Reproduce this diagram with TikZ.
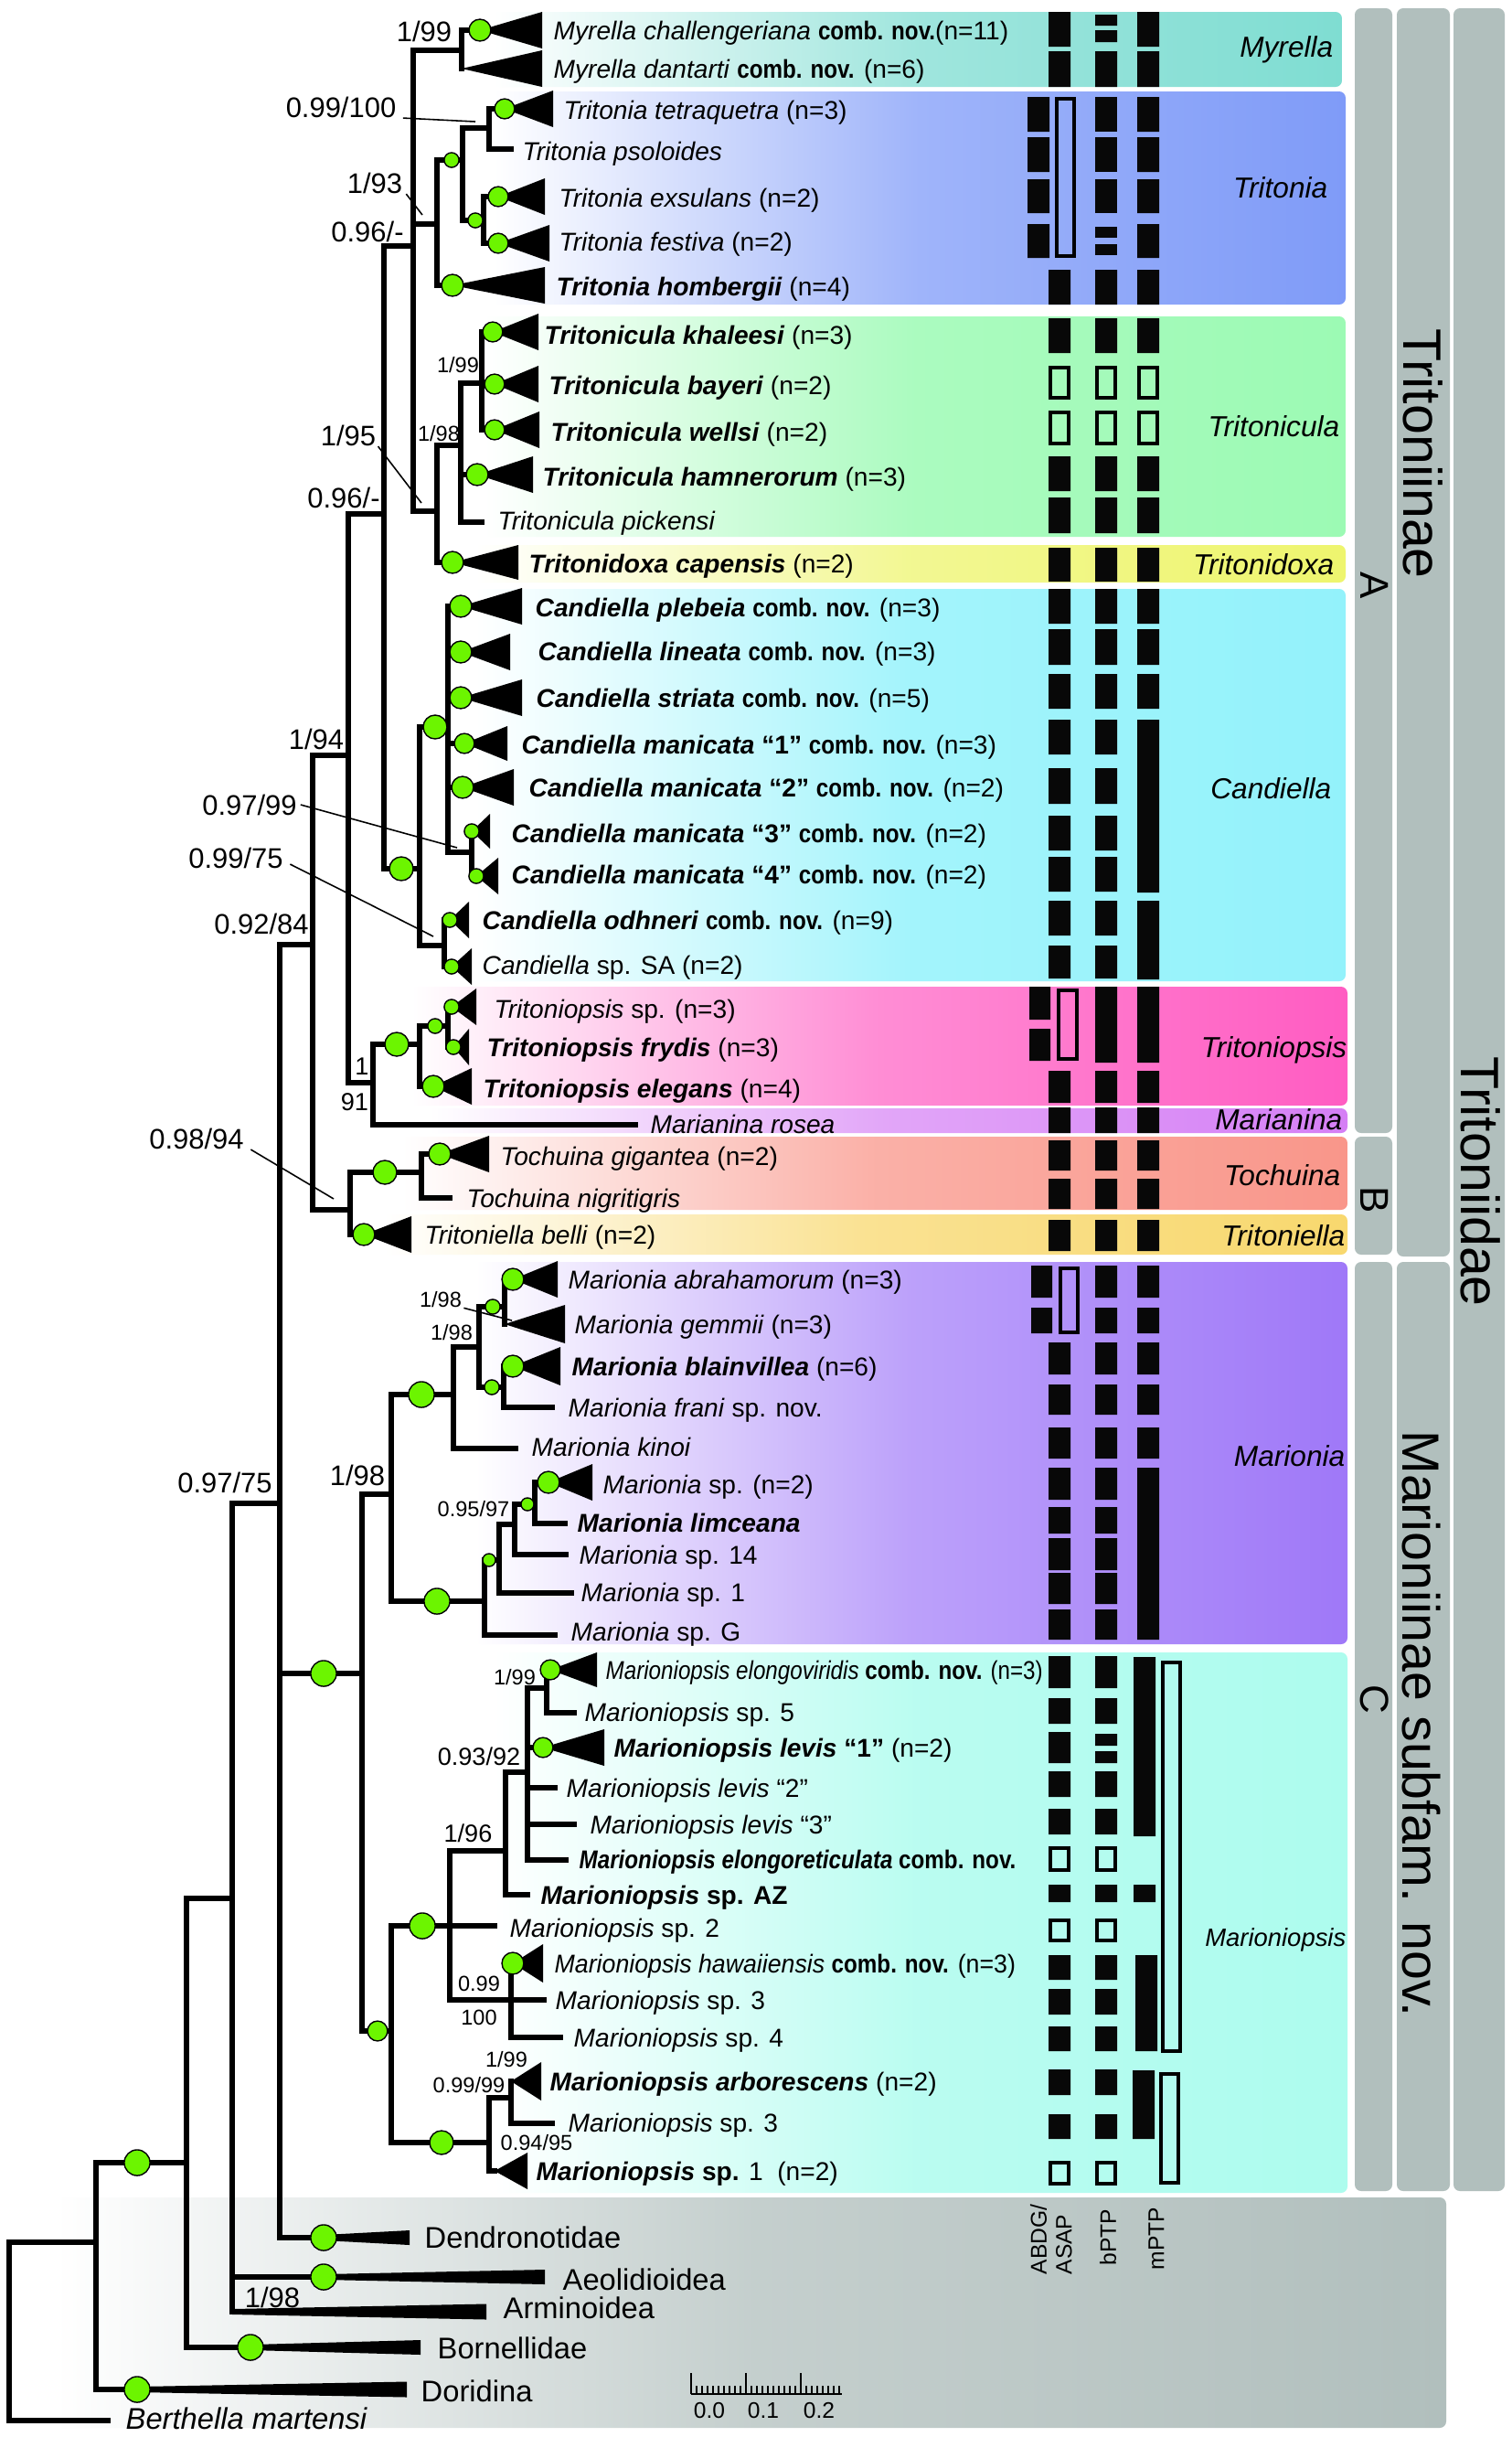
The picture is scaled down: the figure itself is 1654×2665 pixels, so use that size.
\documentclass[tikz,border=0pt]{standalone}
\usepackage{fontspec}
\setmainfont{Liberation Sans}
\newfontfamily\narrowfont[FakeStretch=0.86]{Liberation Sans}
\newfontfamily\semifont[FakeStretch=0.95]{Liberation Sans}
\newcommand{\bi}[1]{\textbf{\textit{#1}}}
\newcommand{\combnov}{{\narrowfont\bfseries comb. nov.}}
\definecolor{cMyr}{RGB}{127,221,210}
\definecolor{cTria}{RGB}{127,155,248}
\definecolor{cTcla}{RGB}{156,250,180}
\definecolor{cTdox}{RGB}{238,245,110}
\definecolor{cCand}{RGB}{147,242,251}
\definecolor{cTops}{RGB}{255,92,194}
\definecolor{cMnina}{RGB}{213,127,245}
\definecolor{cToch}{RGB}{249,150,138}
\definecolor{cTella}{RGB}{248,216,110}
\definecolor{cMar}{RGB}{159,120,248}
\definecolor{cMops}{RGB}{173,252,238}
\definecolor{cGrey}{RGB}{177,191,189}
\definecolor{cDot}{RGB}{108,245,0}
\begin{document}
\begin{tikzpicture}[x=0.01cm,y=-0.01cm,
    br/.style={line width=1.7pt, line cap=rect},
    lead/.style={line width=0.45pt},
    gdot/.style={fill=cDot, draw=black, line width=0.4pt},
    tax/.style={anchor=base west, inner sep=0pt, yshift=-2.9pt, font=\fontsize{8}{9}\selectfont},
    outg/.style={anchor=base west, inner sep=0pt, yshift=-3.3pt, font=\fontsize{9.3}{10}\selectfont},
    supL/.style={inner sep=0pt, font=\fontsize{8.8}{10}\selectfont},
    supM/.style={inner sep=0pt, font=\fontsize{7.7}{9}\selectfont},
    supS/.style={inner sep=0pt, font=\fontsize{6.7}{8}\selectfont},
    clade/.style={anchor=east, inner sep=0pt, font=\fontsize{9}{10}\selectfont\itshape},
    fb/.style={fill=black!97},
    ob/.style={draw=black, line width=1.2pt},
    sidebar/.style={fill=cGrey, rounded corners=2pt},
    grp/.style={rotate=-90, inner sep=0pt, font=\fontsize{16.8}{18}\selectfont},
    colname/.style={rotate=90, anchor=west, inner sep=0pt, font=\fontsize{7}{8}\selectfont}]
\fill[white] (0,0) rectangle (1654,2665);
\useasboundingbox (0,0) rectangle (1654,2665);

% clade boxes
\shade[left color=white, right color=cMyr, middle color=cMyr!75, rounded corners=2pt] (540,13) rectangle (1468,95);
\shade[left color=white, right color=cTria, middle color=cTria!75, rounded corners=2pt] (540,100) rectangle (1472,333);
\shade[left color=white, right color=cTcla, middle color=cTcla!85, rounded corners=2pt] (530,346) rectangle (1472,587);
\shade[left color=white, right color=cTdox, middle color=cTdox!75, rounded corners=2pt] (520,596) rectangle (1472,637);
\shade[left color=white, right color=cCand, middle color=cCand!85, rounded corners=2pt] (520,644) rectangle (1472,1073);
\shade[left color=white, right color=cTops, middle color=cTops!70, rounded corners=2pt] (450,1079) rectangle (1474,1209);
\shade[left color=white, right color=cMnina, middle color=cMnina!70, rounded corners=2pt] (470,1212) rectangle (1474,1239);
\shade[left color=white, right color=cToch, middle color=cToch!75, rounded corners=2pt] (440,1243) rectangle (1474,1323);
\shade[left color=white, right color=cTella, middle color=cTella!75, rounded corners=2pt] (420,1328) rectangle (1474,1372);
\shade[left color=white, right color=cMar, middle color=cMar!70, rounded corners=2pt] (520,1380) rectangle (1474,1798);
\shade[left color=white, right color=cMops, middle color=cMops!85, rounded corners=2pt] (540,1807) rectangle (1474,2398);
\shade[left color=white, right color=cGrey, middle color=cGrey!75, rounded corners=2pt] (60,2403) rectangle (1582,2655);

% side bars
\fill[sidebar] (1482,9) rectangle (1523,1239);
\fill[sidebar] (1482,1243) rectangle (1523,1372);
\fill[sidebar] (1482,1380) rectangle (1523,2396);
\fill[sidebar] (1528,9) rectangle (1586,1374);
\fill[sidebar] (1528,1380) rectangle (1586,2396);
\fill[sidebar] (1590,9) rectangle (1646,2396);
\node[grp] (tinae) at (1557,496) {Tritoniinae};
\node[grp, font=\fontsize{16.3}{18}\selectfont] (minae) at (1555,1885) {Marioniinae subfam. nov.};
\node[grp] (tidae) at (1620,1292) {Tritoniidae};
\node[grp, font=\fontsize{12.5}{14}\selectfont] (gA) at (1504,640) {A};
\node[grp, font=\fontsize{12.5}{14}\selectfont] (gB) at (1504,1312) {B};
\node[grp, font=\fontsize{12.5}{14}\selectfont] (gC) at (1504,1858) {C};

% clade names
\node[clade] (kMyr) at (1459,54) {Myrella};
\node[clade] (kTria) at (1453,205) {Tritonia};
\node[clade] (kTcla) at (1466,466) {Tritonicula};
\node[clade] (kTdox) at (1460,617) {Tritonidoxa};
\node[clade] (kCand) at (1457,862) {Candiella};
\node[clade] (kTops) at (1474,1148) {Tritoniopsis};
\node[clade] (kMnina) at (1469,1224) {Marianina};
\node[clade] (kToch) at (1467,1285) {Tochuina};
\node[clade] (kTella) at (1472,1351) {Tritoniella};
\node[clade] (kMar) at (1472,1592) {Marionia};
\node[clade, font=\fontsize{7.8}{9}\selectfont\itshape] (kMops) at (1473,2121) {Marioniopsis};

% delimitation columns
\foreach \ya/\yb in {56/95,295/333,348/386,499/537,544/583,599/636,644/682,688/727,737/775,1171/1206,1211/1239,1247/1280,1289/1322,1334/1368,1468/1503,1514/1547,1561/1595}
  \fill[fb] (1147,\ya) rectangle (1171,\yb) (1198,\ya) rectangle (1222,\yb) (1244,\ya) rectangle (1268,\yb);
\foreach \ya/\yb in {787/825,840/879,892/930,937/975,985/1023,1034/1070,1605/1640,1648/1677,1682/1717,1720/1754,1760/1793,1811/1846,1857/1885,1937/1965,1978/2006,2061/2080,2138/2165,2175/2203,2216/2243,2263/2291,2312/2339}
  \fill[fb] (1147,\ya) rectangle (1171,\yb) (1198,\ya) rectangle (1222,\yb);
\fill[fb] (1147,13) rectangle (1171,51) (1244,13) rectangle (1268,51) (1198,16) rectangle (1222,28) (1198,33) rectangle (1222,46);
\foreach \ya/\yb in {106/144,150/188,196/233,245/282}
  \fill[fb] (1124,\ya) rectangle (1148,\yb) (1244,\ya) rectangle (1268,\yb);
\foreach \ya/\yb in {106/144,150/188,196/233,248/260,267/279}
  \fill[fb] (1198,\ya) rectangle (1222,\yb);
\fill[fb] (1126,1079) rectangle (1149,1115) (1126,1125) rectangle (1149,1160) (1198,1079) rectangle (1222,1162) (1244,1079) rectangle (1268,1162);
\fill[fb] (1128,1384) rectangle (1151,1419) (1128,1430) rectangle (1151,1458) (1198,1384) rectangle (1222,1419) (1198,1430) rectangle (1222,1458) (1244,1384) rectangle (1268,1419) (1244,1430) rectangle (1268,1458);
\fill[fb] (1244,787) rectangle (1268,976) (1244,985) rectangle (1268,1071) (1244,1605) rectangle (1268,1793);
\fill[fb] (1147,1894) rectangle (1171,1928) (1198,1896) rectangle (1222,1909) (1198,1915) rectangle (1222,1928);
\fill[fb] (1240,1812) rectangle (1264,2008) (1240,2061) rectangle (1264,2080) (1242,2138) rectangle (1266,2243) (1239,2264) rectangle (1263,2339);
\foreach \ya/\yb in {402/435,451/485}
  \draw[ob] (1149,\ya) rectangle (1169,\yb) (1200,\ya) rectangle (1220,\yb) (1246,\ya) rectangle (1266,\yb);
\foreach \ya/\yb in {2021/2045,2100/2122,2365/2388}
  \draw[ob] (1149,\ya) rectangle (1169,\yb) (1200,\ya) rectangle (1220,\yb);
\draw[ob] (1156,108) rectangle (1175,280);
\draw[ob] (1158,1083) rectangle (1178,1158);
\draw[ob] (1160,1387) rectangle (1179,1457);
\draw[ob] (1272,1818) rectangle (1291,2243);
\draw[ob] (1270,2268) rectangle (1289,2387);
\node[colname] (cA) at (1136,2488) {ABDG/};
\node[colname] (cB) at (1164,2488) {ASAP};
\node[colname] (cC) at (1212,2478) {bPTP};
\node[colname] (cD) at (1265,2483) {mPTP};

% backbone and outgroups
\draw[br] (10,2452) -- (10,2647) -- (118,2647);
\draw[br] (10,2452) -- (105,2452);
\draw[br] (105,2365) -- (105,2613) -- (150,2613);
\draw[br] (105,2365) -- (204,2365);
\draw[br] (204,2076) -- (204,2567) -- (274,2567);
\draw[br] (204,2076) -- (254,2076);
\draw[br] (254,1644) -- (254,2528);
\draw[br] (254,1644) -- (306,1644);
\draw[br] (254,2490) -- (354,2490);
\draw[br] (306,1033) -- (306,2447) -- (354,2447);
\draw[br] (306,1033) -- (342,1033);
\draw[br] (306,1830) -- (396,1830);
% Tritoniinae and clade B
\draw[br] (342,826) -- (342,1323) -- (383,1323);
\draw[br] (342,826) -- (381,826);
\draw[br] (381,562) -- (381,1184) -- (408,1184);
\draw[br] (381,562) -- (420,562);
\draw[br] (420,269) -- (420,950) -- (459,950);
\draw[br] (420,269) -- (452,269);
\draw[br] (452,55) -- (452,559) -- (478,559);
\draw[br] (452,55) -- (505,55);
\draw[br] (452,245) -- (478,245);
\draw[br] (525,33) -- (505,33) -- (505,75);
\draw[br] (478,175) -- (478,312) -- (495,312);
\draw[br] (478,175) -- (506,175);
\draw[br] (506,140) -- (506,241) -- (529,241);
\draw[br] (506,140) -- (535,140);
\draw[br] (552,119) -- (535,119) -- (535,163) -- (559,163);
\draw[br] (545,215) -- (529,215) -- (529,266) -- (545,266);
\draw[br] (478,487) -- (478,615) -- (495,615);
\draw[br] (478,487) -- (504,487);
\draw[br] (504,419) -- (504,571) -- (527,571);
\draw[br] (504,419) -- (527,419);
\draw[br] (504,519) -- (522,519);
\draw[br] (539,363) -- (527,363) -- (527,470) -- (541,470);
\draw[br] (527,420) -- (541,420);
\draw[br] (459,795) -- (459,1034) -- (486,1034);
\draw[br] (459,795) -- (490,795);
\draw[br] (504,663) -- (490,663) -- (490,932) -- (516,932);
\draw[br] (490,713) -- (504,713);
\draw[br] (490,763) -- (504,763);
\draw[br] (490,813) -- (508,813);
\draw[br] (490,861) -- (506,861);
\draw[br] (516,909) -- (516,958) -- (521,958);
\draw[br] (492,1006) -- (486,1006) -- (486,1057) -- (494,1057);
\draw[br] (408,1142) -- (408,1230) -- (695,1230);
\draw[br] (408,1142) -- (459,1142);
\draw[br] (459,1122) -- (459,1188) -- (474,1188);
\draw[br] (459,1122) -- (490,1122);
\draw[br] (494,1101) -- (490,1101) -- (490,1145) -- (496,1145);
\draw[br] (383,1282) -- (383,1350) -- (398,1350);
\draw[br] (383,1282) -- (461,1282);
\draw[br] (481,1262) -- (461,1262) -- (461,1310) -- (492,1310);
% Marioniinae
\draw[br] (396,1634) -- (396,2221) -- (428,2221);
\draw[br] (396,1634) -- (428,1634);
\draw[br] (428,1525) -- (428,1751) -- (530,1751);
\draw[br] (428,1525) -- (496,1525);
\draw[br] (496,1473) -- (496,1584) -- (564,1584);
\draw[br] (496,1473) -- (524,1473);
\draw[br] (524,1429) -- (524,1517) -- (551,1517);
\draw[br] (524,1429) -- (552,1429);
\draw[br] (561,1399) -- (552,1399) -- (552,1448);
\draw[br] (561,1494) -- (551,1494) -- (551,1539) -- (604,1539);
\draw[br] (530,1706) -- (530,1788) -- (607,1788);
\draw[br] (530,1706) -- (546,1706);
\draw[br] (546,1667) -- (546,1742) -- (625,1742);
\draw[br] (546,1667) -- (563,1667);
\draw[br] (563,1645) -- (563,1700) -- (619,1700);
\draw[br] (563,1645) -- (585,1645);
\draw[br] (600,1621) -- (585,1621) -- (585,1666) -- (618,1666);
\draw[br] (428,2106) -- (428,2343) -- (535,2343);
\draw[br] (428,2106) -- (541,2106);
\draw[br] (492,2024) -- (492,2187) -- (595,2187);
\draw[br] (492,2024) -- (553,2024);
\draw[br] (553,1938) -- (553,2072) -- (577,2072);
\draw[br] (553,1938) -- (577,1938);
\draw[br] (577,1846) -- (577,2034) -- (619,2034);
\draw[br] (577,1846) -- (598,1846);
\draw[br] (577,1911) -- (594,1911);
\draw[br] (577,1955) -- (607,1955);
\draw[br] (577,1995) -- (628,1995);
\draw[br] (602,1826) -- (598,1826) -- (598,1873) -- (628,1873);
\draw[br] (559,2147) -- (559,2228) -- (613,2228);
\draw[br] (535,2294) -- (535,2374) -- (541,2374);
\draw[br] (535,2294) -- (559,2294);
\draw[br] (559,2276) -- (559,2322) -- (604,2322);

% collapsed clades
\fill (525,33) -- (593,13) -- (593,53) -- cycle;
\fill (505,75) -- (593,55) -- (593,95) -- cycle;
\fill (552,119) -- (605,99) -- (605,139) -- cycle;
\fill (545,215) -- (596,195) -- (596,235) -- cycle;
\fill (545,266) -- (601,246) -- (601,286) -- cycle;
\fill (495,312) -- (596,292) -- (596,332) -- cycle;
\fill (539,363) -- (589,343) -- (589,383) -- cycle;
\fill (541,420) -- (589,400) -- (589,440) -- cycle;
\fill (541,470) -- (590,450) -- (590,490) -- cycle;
\fill (522,519) -- (583,499) -- (583,539) -- cycle;
\fill (495,615) -- (567,596) -- (567,634) -- cycle;
\fill (504,663) -- (571,643) -- (571,683) -- cycle;
\fill (504,713) -- (558,693) -- (558,733) -- cycle;
\fill (504,763) -- (571,743) -- (571,783) -- cycle;
\fill (508,813) -- (555,794) -- (555,832) -- cycle;
\fill (506,861) -- (562,841) -- (562,881) -- cycle;
\fill (516,909) -- (536,890) -- (536,928) -- cycle;
\fill (521,958) -- (545,938) -- (545,978) -- cycle;
\fill (492,1006) -- (513,986) -- (513,1026) -- cycle;
\fill (494,1057) -- (516,1037) -- (516,1077) -- cycle;
\fill (494,1101) -- (521,1081) -- (521,1121) -- cycle;
\fill (496,1145) -- (513,1125) -- (513,1165) -- cycle;
\fill (474,1188) -- (516,1168) -- (516,1208) -- cycle;
\fill (481,1262) -- (535,1242) -- (535,1282) -- cycle;
\fill (398,1350) -- (450,1330) -- (450,1370) -- cycle;
\fill (561,1399) -- (610,1379) -- (610,1419) -- cycle;
\fill (552,1448) -- (618,1427) -- (618,1469) -- cycle;
\fill (561,1494) -- (613,1473) -- (613,1515) -- cycle;
\fill (600,1621) -- (648,1601) -- (648,1641) -- cycle;
\fill (602,1826) -- (653,1807) -- (653,1845) -- cycle;
\fill (594,1911) -- (661,1891) -- (661,1931) -- cycle;
\fill (561,2147) -- (594,2126) -- (594,2168) -- cycle;
\fill (559,2276) -- (592,2255) -- (592,2297) -- cycle;
\fill (541,2374) -- (577,2354) -- (577,2394) -- cycle;
\fill (354,2444) -- (448,2439) -- (448,2455) -- (354,2450) -- cycle;
\fill (354,2487) -- (596,2482) -- (596,2498) -- (354,2493) -- cycle;
\fill (254,2525) -- (532,2519.5) -- (532,2536.5) -- (254,2531) -- cycle;
\fill (274,2564) -- (460,2559) -- (460,2575) -- (274,2570) -- cycle;
\fill (150,2610) -- (445,2604.5) -- (445,2621.5) -- (150,2616) -- cycle;

% support dots
\foreach \px/\py/\r in {525/33/3.4,552/119/3.1,494/175/2.3,520/241/2.3,545/215/3.1,545/266/3.1,495/312/3.4,
    539/363/3.1,541/420/3.1,541/470/3.1,522/519/3.4,495/615/3.4,504/663/3.4,504/713/3.4,504/763/3.4,
    508/813/3.1,506/861/3.4,476/795/3.7,516/909/2.3,521/958/2.3,439/950/3.7,492/1006/2.3,494/1057/2.3,
    494/1101/2.3,496/1145/2.3,476/1122/2.3,474/1188/3.4,434/1142/3.7,421/1282/3.7,481/1262/3.4,398/1350/3.4,
    561/1399/3.4,539/1429/2.3,561/1494/3.4,538/1517/2.3,461/1525/4,600/1621/3.4,577/1645/2,535/1706/2,
    478/1751/4,354/1830/4,602/1826/3.1,594/1911/3.1,462/2106/4,561/2147/3.4,413/2221/3.1,483/2343/3.7,
    354/2447/4,354/2490/4,274/2567/4,150/2613/4,150/2365/4}
  \filldraw[gdot] (\px,\py) circle (\r pt);

% support values
\node[supL] (s1) at (464,34) {1/99};
\node[supL] (s2) at (373,117) {0.99/100};
\node[supL] (s3) at (410,200) {1/93};
\node[supL] (s4) at (402,253) {0.96/-};
\node[supS] (s5) at (501,399) {1/99};
\node[supL] (s6) at (381,476) {1/95};
\node[supS] (s7) at (480,474) {1/98};
\node[supL] (s8) at (376,544) {0.96/-};
\node[supL] (s9) at (346,808) {1/94};
\node[supL] (s10) at (273,880) {0.97/99};
\node[supL] (s11) at (258,938) {0.99/75};
\node[supL] (s12) at (286,1010) {0.92/84};
\node[supM] (s13) at (396,1166) {1};
\node[supM] (s14) at (388,1205) {91};
\node[supL] (s15) at (215,1245) {0.98/94};
\node[supS] (s16) at (482,1421) {1/98};
\node[supS] (s17) at (494,1457) {1/98};
\node[supL] (s18) at (391,1613) {1/98};
\node[supL] (s19) at (246,1621) {0.97/75};
\node[supS] (s20) at (518,1650) {0.95/97};
\node[supS] (s21) at (563,1834) {1/99};
\node[supM] (s22) at (524,1921) {0.93/92};
\node[supM] (s23) at (512,2005) {1/96};
\node[supS] (s24) at (524,2169) {0.99};
\node[supS] (s25) at (524,2206) {100};
\node[supS] (s26) at (554,2252) {1/99};
\node[supS] (s27) at (513,2280) {0.99/99};
\node[supS] (s28) at (587,2343) {0.94/95};
\node[supL] (s29) at (298,2512) {1/98};
\coordinate (l2) at (520,133);
\coordinate (l3) at (462,235);
\coordinate (l6) at (461,550);
\coordinate (l10) at (500,927);
\coordinate (l11) at (474,1024);
\coordinate (l15) at (365,1311);
\coordinate (l16) at (560,1444);
\draw[lead] ([xshift=2pt]s2.south east) -- (l2);
\draw[lead] ([xshift=1pt]s3.south east) -- (l3);
\draw[lead] ([xshift=0.5pt]s6.south east) -- (l6);
\draw[lead] ([xshift=1pt]s10.east) -- (l10);
\draw[lead] ([xshift=2pt,yshift=-2pt]s11.east) -- (l11);
\draw[lead] ([xshift=2pt]s15.south east) -- (l15);
\draw[lead] ([xshift=0.5pt]s16.south east) -- (l16);

% taxa
\node[tax] (t1) at (605,33) {\textit{Myrella challengeriana} \combnov(n=11)};
\node[tax] (t2) at (605,75) {\textit{Myrella dantarti} \combnov{} (n=6)};
\node[tax] (t3) at (616,120) {\textit{Tritonia tetraquetra} (n=3)};
\node[tax] (t4) at (571,165) {\textit{Tritonia psoloides}};
\node[tax] (t5) at (611,216) {\textit{Tritonia exsulans} (n=2)};
\node[tax] (t6) at (611,264) {\textit{Tritonia festiva} (n=2)};
\node[tax] (t7) at (608,313) {\bi{Tritonia hombergii} (n=4)};
\node[tax] (t8) at (595,366) {\bi{Tritonicula khaleesi} (n=3)};
\node[tax] (t9) at (600,421) {\bi{Tritonicula bayeri} (n=2)};
\node[tax] (t10) at (602,472) {\bi{Tritonicula wellsi} (n=2)};
\node[tax] (t11) at (593,521) {\bi{Tritonicula hamnerorum} (n=3)};
\node[tax] (t12) at (544,569) {\textit{Tritonicula pickensi}};
\node[tax] (t13) at (578,616) {\bi{Tritonidoxa capensis} (n=2)};
\node[tax] (t14) at (585,664) {\bi{Candiella plebeia} \combnov{} (n=3)};
\node[tax] (t15) at (588,712) {\bi{Candiella lineata} \combnov{} (n=3)};
\node[tax] (t16) at (586,763) {\bi{Candiella striata} \combnov{} (n=5)};
\node[tax] (t17) at (570,814) {\bi{Candiella manicata} \textbf{“1”} \combnov{} (n=3)};
\node[tax] (t18) at (578,861) {\bi{Candiella manicata} \textbf{“2”} \combnov{} (n=2)};
\node[tax] (t19) at (559,911) {\bi{Candiella manicata} \textbf{“3”} \combnov{} (n=2)};
\node[tax] (t20) at (559,956) {\bi{Candiella manicata} \textbf{“4”} \combnov{} (n=2)};
\node[tax] (t21) at (527,1006) {\bi{Candiella odhneri} \combnov{} (n=9)};
\node[tax] (t22) at (527,1055) {\textit{Candiella} sp. SA (n=2)};
\node[tax] (t23) at (540,1103) {\textit{Tritoniopsis} sp. (n=3)};
\node[tax] (t24) at (532,1145) {\bi{Tritoniopsis frydis} (n=3)};
\node[tax] (t25) at (528,1190) {\bi{Tritoniopsis elegans} (n=4)};
\node[tax] (t26) at (711,1229) {\textit{Marianina rosea}};
\node[tax] (t27) at (547,1264) {\textit{Tochuina gigantea} (n=2)};
\node[tax] (t28) at (510,1310) {\textit{Tochuina nigritigris}};
\node[tax] (t29) at (464,1350) {\textit{Tritoniella belli} (n=2)};
\node[tax] (t30) at (621,1399) {\textit{Marionia abrahamorum} (n=3)};
\node[tax] (t31) at (628,1448) {\textit{Marionia gemmii} (n=3)};
\node[tax] (t32) at (625,1494) {\bi{Marionia blainvillea} (n=6)};
\node[tax] (t33) at (621,1539) {\textit{Marionia frani} sp. nov.};
\node[tax] (t34) at (581,1582) {\textit{Marionia kinoi}};
\node[tax] (t35) at (659,1623) {\textit{Marionia} sp. (n=2)};
\node[tax] (t36) at (631,1665) {\bi{Marionia limceana}};
\node[tax] (t37) at (633,1700) {\textit{Marionia} sp. 14};
\node[tax] (t38) at (635,1741) {\textit{Marionia} sp. 1};
\node[tax] (t39) at (624,1784) {\textit{Marionia} sp. G};
\node[tax] (t40) at (662,1826) {\narrowfont\textit{Marioniopsis elongoviridis} \textbf{comb. nov.} (n=3)};
\node[tax] (t41) at (639,1872) {\textit{Marioniopsis} sp. 5};
\node[tax] (t42) at (671,1911) {\bi{Marioniopsis levis} \textbf{“1”} (n=2)};
\node[tax] (t43) at (619,1955) {\textit{Marioniopsis levis} “2”};
\node[tax] (t44) at (645,1995) {\textit{Marioniopsis levis} “3”};
\node[tax] (t45) at (633,2033) {\narrowfont\bi{Marioniopsis elongoreticulata} \textbf{comb. nov.}};
\node[tax] (t46) at (591,2072) {\bi{Marioniopsis} \textbf{sp. AZ}};
\node[tax] (t47) at (557,2108) {\textit{Marioniopsis} sp. 2};
\node[tax] (t48) at (606,2147) {\semifont\textit{Marioniopsis hawaiiensis} \combnov{} (n=3)};
\node[tax] (t49) at (607,2187) {\textit{Marioniopsis} sp. 3};
\node[tax] (t50) at (627,2228) {\textit{Marioniopsis} sp. 4};
\node[tax] (t51) at (601,2276) {\bi{Marioniopsis arborescens} (n=2)};
\node[tax] (t52) at (621,2321) {\textit{Marioniopsis} sp. 3};
\node[tax] (t53) at (586,2374) {\bi{Marioniopsis} \textbf{sp.} 1 \ (n=2)};
\node[outg] (t54) at (464,2447) {Dendronotidae};
\node[outg] (t55) at (615,2493) {Aeolidioidea};
\node[outg] (t56) at (550,2524) {Arminoidea};
\node[outg] (t57) at (478,2568) {Bornellidae};
\node[outg] (t58) at (460,2615) {Doridina};
\node[outg] (t59) at (137,2645) {\textit{Berthella martensi}};

% scale bar
\draw[line width=0.6pt] (756,2618) -- (921,2618);
\foreach \i in {0,...,27}
  \draw[line width=0.5pt] (756+6*\i,2618) -- (756+6*\i,2609);
\foreach \mx in {756,816,876}
  \draw[line width=0.6pt] (\mx,2618) -- (\mx,2595);
\node[inner sep=0pt, font=\fontsize{7}{8}\selectfont] (sb0) at (776,2636) {0.0};
\node[inner sep=0pt, font=\fontsize{7}{8}\selectfont] (sb1) at (835,2636) {0.1};
\node[inner sep=0pt, font=\fontsize{7}{8}\selectfont] (sb2) at (896,2636) {0.2};
\end{tikzpicture}
\end{document}
